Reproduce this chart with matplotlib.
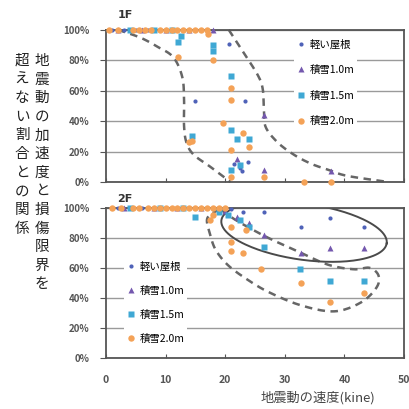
import numpy as np
import matplotlib
matplotlib.use("Agg")
import matplotlib.pyplot as plt
from matplotlib.ticker import PercentFormatter

plt.rcParams['font.family'] = ['Noto Sans CJK JP', 'DejaVu Sans']

# series labels and colours
labels = ['軽い屋根', '積雪1.0m', '積雪1.5m', '積雪2.0m']
colors = ['#4f62b8', '#7458ae', '#3fa8d4', '#f4a257']
markers = ['o', '^', 's', 'o']
msizes = [3.0, 3.8, 4.3, 4.6]

# 1F : velocity (kine) / ratio not exceeding damage limit (%)
f1_light_x = [1, 3, 5, 7, 9, 11, 13, 15, 20.6, 23.4, 21.5, 22.5, 23.8, 22.8]
f1_light_y = [100, 100, 100, 100, 100, 100, 100, 53, 91, 53, 12, 9, 13, 7]
f1_s10_x = [2, 6, 10, 14, 18, 26.5, 22, 26.5, 37.8]
f1_s10_y = [100, 100, 100, 100, 100, 44, 15, 8, 7]
f1_s15_x = [4, 8, 11, 12.1, 12.6, 18, 18, 21, 14.5, 21, 22, 24, 22.5, 21]
f1_s15_y = [100, 100, 100, 92, 96, 90, 86, 70, 30, 34, 28, 28, 11, 8]
f1_s20_x = [0.5, 2, 4.5, 5.5, 6.5, 7.5, 9, 10, 11, 12, 13, 14, 15, 16, 17,
            12.1, 17.2, 18, 21, 21, 14.5, 14, 19.7, 23, 21, 24, 26.5, 21, 33.2, 37.8]
f1_s20_y = [100, 100, 100, 100, 100, 100, 100, 100, 100, 100, 100, 100, 100, 100, 100,
            82, 97, 80, 62, 54, 27, 26, 39, 32, 21, 23, 3, 3, 0, 0]

# 2F
f2_light_x = [2, 6, 10, 14, 18, 21, 23, 26.5, 32.7, 37.5, 43.3]
f2_light_y = [100, 100, 100, 100, 100, 99, 97, 97, 87, 93, 87]
f2_s10_x = [3, 8, 12, 16, 20, 22, 24, 26.5, 32.7, 37.5, 43.3]
f2_s10_y = [100, 100, 100, 100, 98, 94, 90, 82, 70, 73, 73]
f2_s15_x = [4, 9, 13, 15, 19, 20.5, 22.5, 24, 26.5, 32.5, 37.5, 43.3]
f2_s15_y = [100, 100, 100, 94, 97, 95, 92, 87, 74, 59, 51, 51]
f2_s20_x = [1, 2.5, 4.5, 5.5, 7, 8, 9, 10, 11, 12, 13, 14, 15, 16, 17, 18, 19, 20,
            18, 17.5, 21, 23.5, 21, 21, 23, 26, 32.7, 37.5, 43.3]
f2_s20_y = [100, 100, 100, 100, 100, 100, 100, 100, 100, 100, 100, 100, 100, 100, 100, 100, 100, 100,
            95, 92, 87, 85, 77, 71, 70, 59, 50, 37, 43]

# hand-drawn outlines (data units)
f1_left_x = [2.0, 5.7, 8.6, 11.3, 12.8, 13.1, 13.1, 13.5, 14.7, 17.5, 20.9]
f1_left_y = [100, 95, 89, 82, 69, 54, 37, 26, 18, 10, 0]
f1_right_x = [20.6, 23.1, 25.5, 26.3, 26.5, 26.8, 28.8, 31.5, 34.4, 37.3, 40.5, 47.4]
f1_right_y = [100, 85, 70, 61, 47, 36, 26, 18, 12, 8, 4, 0]
f2_loop_x = [19.0, 17.0, 17.5, 18.4, 20.4, 23.4, 27.2, 32.7, 38.3, 42.8, 45.4, 45.7, 44.2,
             41.6, 37.3, 32.7, 27.2, 22.1, 19.2]
f2_loop_y = [99, 93, 82, 72, 62, 53, 44, 35, 31, 37, 47, 55, 60,
             59, 62, 70, 80, 91, 99]

xticks = [0, 10, 20, 30, 40, 50]
yticks = [0, 20, 40, 60, 80, 100]


def smooth(xs, ys, n=12):
    # catmull-rom through the outline points
    p = np.column_stack([xs, ys]).astype(float)
    p = np.vstack([p[0], p, p[-1]])
    out = []
    t = np.linspace(0, 1, n, endpoint=False)
    for i in range(1, len(p) - 2):
        p0, p1, p2, p3 = p[i - 1], p[i], p[i + 1], p[i + 2]
        for tt in t:
            out.append(0.5 * ((2 * p1) + (-p0 + p2) * tt
                              + (2 * p0 - 5 * p1 + 4 * p2 - p3) * tt ** 2
                              + (-p0 + 3 * p1 - 3 * p2 + p3) * tt ** 3))
    out.append(p[-2])
    out = np.array(out)
    return out[:, 0], out[:, 1]


fig = plt.figure(figsize=(4.09, 4.09), dpi=100)
ax1 = fig.add_axes([0.259, 0.555, 0.729, 0.372])
ax2 = fig.add_axes([0.259, 0.125, 0.729, 0.367])

series1 = [(f1_light_x, f1_light_y), (f1_s10_x, f1_s10_y), (f1_s15_x, f1_s15_y), (f1_s20_x, f1_s20_y)]
series2 = [(f2_light_x, f2_light_y), (f2_s10_x, f2_s10_y), (f2_s15_x, f2_s15_y), (f2_s20_x, f2_s20_y)]

for ax, series in [(ax1, series1), (ax2, series2)]:
    ax.set_xlim(0, 50)
    ax.set_ylim(0, 100)
    ax.set_xticks(xticks)
    ax.set_yticks(yticks)
    ax.yaxis.set_major_formatter(PercentFormatter(decimals=0))
    ax.grid(axis='y', color='#9a9a9a', lw=1.0)
    ax.set_axisbelow(True)
    for s in ax.spines.values():
        s.set_color('#555555')
        s.set_linewidth(1.3)
    ax.tick_params(axis='y', direction='out', length=4, color='#555555',
                   labelsize=7, labelcolor='#555555', pad=8)
    ax.tick_params(axis='x', direction='in', length=3, color='#555555',
                   labelsize=7.5, labelcolor='#555555', pad=12)
    for lab in ax.get_xticklabels() + ax.get_yticklabels():
        lab.set_fontweight('bold')
    for (xs, ys), lab, c, m, ms in zip(series, labels, colors, markers, msizes):
        ax.plot(xs, ys, ls='none', marker=m, ms=ms, color=c, mec='none',
                label=lab, clip_on=False, zorder=3)

ax1.tick_params(axis='x', labelbottom=False)

# outlines
for xs, ys in [(f1_left_x, f1_left_y), (f1_right_x, f1_right_y)]:
    sx, sy = smooth(xs, ys)
    ax1.plot(sx, sy, color='#666666', lw=1.8, dashes=(3, 2.2), zorder=2, clip_on=False)
sx, sy = smooth(f2_loop_x, f2_loop_y)
ax2.plot(sx, sy, color='#666666', lw=1.8, dashes=(3, 2.2), zorder=2)

# solid ellipse (drawn in pixel space then mapped to data)
t = np.linspace(0, 2 * np.pi, 200)
ang = np.deg2rad(-8)
ex = 83 * np.cos(t)
ey = 28 * np.sin(t)
px = 303 + ex * np.cos(ang) - ey * np.sin(ang)
py = 232 - (ex * np.sin(ang) + ey * np.cos(ang))
ax2.plot((px - 106) / 5.93, (358 - py) / 1.5, color='#4a4a4a', lw=1.4, zorder=2)

leg_kw = dict(frameon=True, facecolor='white', edgecolor='none', framealpha=1,
              fontsize=7.5, handlelength=0.8, handletextpad=0.4, borderpad=0.3,
              borderaxespad=0, numpoints=1)
ax1.legend(loc='upper left', bbox_to_anchor=(0.63, 0.96), labelspacing=1.5, **leg_kw)
ax2.legend(loc='upper left', bbox_to_anchor=(0.06, 0.665), labelspacing=1.35, **leg_kw)

fig.text(125 / 409, 1 - 15 / 409, '1F', fontsize=8, fontweight='bold', color='#333333',
         ha='center', va='center', family='DejaVu Sans')
fig.text(125 / 409, 1 - 199 / 409, '2F', fontsize=8, fontweight='bold', color='#333333',
         ha='center', va='center', family='DejaVu Sans')

fig.text(318 / 409, 1 - 398 / 409, '地震動の速度(kine)', fontsize=9.5, color='#444444',
         ha='center', va='center')

# vertical y label, two columns
col_r = '地震動の加速度と損傷限界を'
col_l = '超えない割合との関係'
fig.text(42 / 409, 1 - 54 / 409, '\n'.join(col_r), fontsize=10.5, ha='center', va='top',
         linespacing=1.42, color='#222222')
fig.text(22 / 409, 1 - 54 / 409, '\n'.join(col_l), fontsize=10.5, ha='center', va='top',
         linespacing=1.42, color='#222222')

fig.savefig('out.png', dpi=100, facecolor='white')
